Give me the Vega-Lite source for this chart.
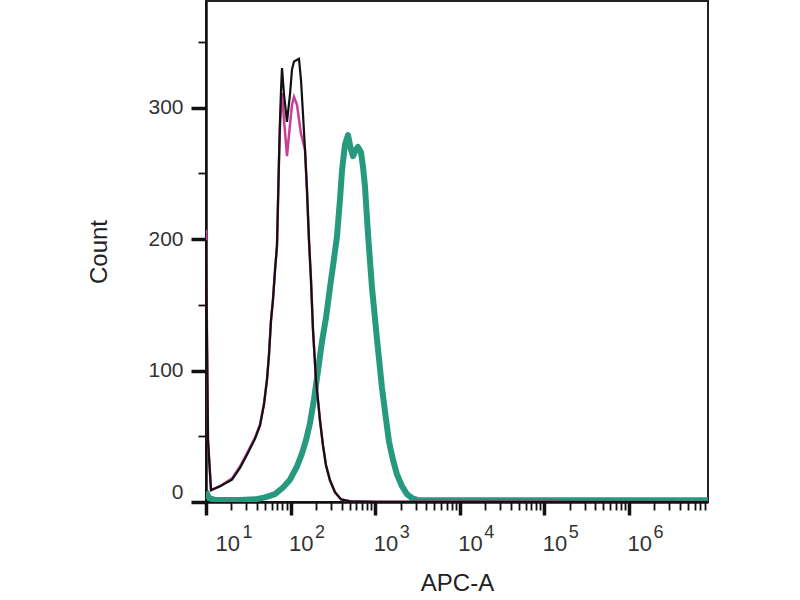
{
  "$schema": "https://vega.github.io/schema/vega-lite/v6.json",
  "width": 502,
  "height": 501,
  "autosize": "none",
  "padding": {"left": 206, "top": 1, "right": 92, "bottom": 98},
  "background": "white",
  "config": {
    "view": {"stroke": "#222", "strokeWidth": 2},
    "axis": {"labelFont": "Liberation Sans", "titleFont": "Liberation Sans", "labelColor": "#333", "titleColor": "#222", "titleFontWeight": "normal", "grid": false, "zindex": 1}
  },
  "data": {"values": [
    {"s": "teal", "x": 10, "y": 8}, {"s": "teal", "x": 10.85, "y": 3}, {"s": "teal", "x": 12.78, "y": 1.6}, {"s": "teal", "x": 25.23, "y": 1.5}, {"s": "teal", "x": 37.95, "y": 2}, {"s": "teal", "x": 49.82, "y": 3.5}, {"s": "teal", "x": 65.4, "y": 6}, {"s": "teal", "x": 81.33, "y": 11}, {"s": "teal", "x": 98.37, "y": 17}, {"s": "teal", "x": 119, "y": 27}, {"s": "teal", "x": 136.4, "y": 37}, {"s": "teal", "x": 152.1, "y": 47}, {"s": "teal", "x": 169.6, "y": 60}, {"s": "teal", "x": 189.1, "y": 78}, {"s": "teal", "x": 210.9, "y": 100}, {"s": "teal", "x": 235, "y": 122}, {"s": "teal", "x": 262, "y": 140}, {"s": "teal", "x": 292.2, "y": 163}, {"s": "teal", "x": 325.8, "y": 185}, {"s": "teal", "x": 353.6, "y": 202}, {"s": "teal", "x": 383.6, "y": 230}, {"s": "teal", "x": 405.2, "y": 252}, {"s": "teal", "x": 439.5, "y": 272}, {"s": "teal", "x": 476.9, "y": 279}, {"s": "teal", "x": 517.6, "y": 268}, {"s": "teal", "x": 546.6, "y": 263}, {"s": "teal", "x": 592.9, "y": 268}, {"s": "teal", "x": 626.1, "y": 270}, {"s": "teal", "x": 679.6, "y": 266}, {"s": "teal", "x": 717.5, "y": 255}, {"s": "teal", "x": 757.5, "y": 240}, {"s": "teal", "x": 822, "y": 204}, {"s": "teal", "x": 916.7, "y": 163}, {"s": "teal", "x": 1050, "y": 124}, {"s": "teal", "x": 1203, "y": 87}, {"s": "teal", "x": 1342, "y": 63}, {"s": "teal", "x": 1456, "y": 46}, {"s": "teal", "x": 1623, "y": 32}, {"s": "teal", "x": 1810, "y": 21}, {"s": "teal", "x": 2074, "y": 12}, {"s": "teal", "x": 2376, "y": 6}, {"s": "teal", "x": 2723, "y": 3}, {"s": "teal", "x": 3120, "y": 1.6}, {"s": "teal", "x": 4444, "y": 1.3}, {"s": "teal", "x": 29880, "y": 1.3}, {"s": "teal", "x": 454100, "y": 1.3}, {"s": "teal", "x": 8600000, "y": 1.3},

    {"s": "pink", "x": 10, "y": 207}, {"s": "pink", "x": 10.56, "y": 47}, {"s": "pink", "x": 11.46, "y": 9}, {"s": "pink", "x": 14.64, "y": 12}, {"s": "pink", "x": 20.29, "y": 18}, {"s": "pink", "x": 25.23, "y": 27}, {"s": "pink", "x": 30.52, "y": 37}, {"s": "pink", "x": 37.95, "y": 49}, {"s": "pink", "x": 43.48, "y": 59}, {"s": "pink", "x": 48.48, "y": 75}, {"s": "pink", "x": 52.61, "y": 93}, {"s": "pink", "x": 55.55, "y": 112}, {"s": "pink", "x": 58.66, "y": 138}, {"s": "pink", "x": 61.94, "y": 154}, {"s": "pink", "x": 65.4, "y": 176}, {"s": "pink", "x": 69.07, "y": 195}, {"s": "pink", "x": 72.93, "y": 260}, {"s": "pink", "x": 74.94, "y": 285}, {"s": "pink", "x": 77.01, "y": 300}, {"s": "pink", "x": 79.13, "y": 311}, {"s": "pink", "x": 83.56, "y": 291}, {"s": "pink", "x": 90.67, "y": 263}, {"s": "pink", "x": 98.37, "y": 287}, {"s": "pink", "x": 103.9, "y": 302}, {"s": "pink", "x": 109.7, "y": 308}, {"s": "pink", "x": 119, "y": 302}, {"s": "pink", "x": 125.7, "y": 291}, {"s": "pink", "x": 132.7, "y": 280}, {"s": "pink", "x": 140.2, "y": 274}, {"s": "pink", "x": 148, "y": 268}, {"s": "pink", "x": 156.3, "y": 237}, {"s": "pink", "x": 165, "y": 199}, {"s": "pink", "x": 174.2, "y": 169}, {"s": "pink", "x": 184, "y": 131}, {"s": "pink", "x": 199.6, "y": 93}, {"s": "pink", "x": 222.6, "y": 62}, {"s": "pink", "x": 241.5, "y": 43}, {"s": "pink", "x": 262, "y": 28}, {"s": "pink", "x": 292.2, "y": 16.5}, {"s": "pink", "x": 334.8, "y": 7.4}, {"s": "pink", "x": 394.2, "y": 2}, {"s": "pink", "x": 503.6, "y": 0.5}, {"s": "pink", "x": 1000, "y": 0.2}, {"s": "pink", "x": 8600000, "y": 0},

    {"s": "black", "x": 10, "y": 199}, {"s": "black", "x": 10.56, "y": 47}, {"s": "black", "x": 11.46, "y": 9}, {"s": "black", "x": 14.64, "y": 12}, {"s": "black", "x": 20.29, "y": 17}, {"s": "black", "x": 25.23, "y": 26}, {"s": "black", "x": 30.52, "y": 36}, {"s": "black", "x": 37.95, "y": 48}, {"s": "black", "x": 43.48, "y": 58}, {"s": "black", "x": 48.48, "y": 74}, {"s": "black", "x": 52.61, "y": 93}, {"s": "black", "x": 55.55, "y": 112}, {"s": "black", "x": 58.66, "y": 138}, {"s": "black", "x": 61.94, "y": 154}, {"s": "black", "x": 65.4, "y": 176}, {"s": "black", "x": 69.07, "y": 195}, {"s": "black", "x": 72.93, "y": 260}, {"s": "black", "x": 74.94, "y": 290}, {"s": "black", "x": 77.01, "y": 313}, {"s": "black", "x": 79.13, "y": 330}, {"s": "black", "x": 83.56, "y": 310}, {"s": "black", "x": 90.67, "y": 289}, {"s": "black", "x": 98.37, "y": 310}, {"s": "black", "x": 103.9, "y": 329}, {"s": "black", "x": 109.7, "y": 335}, {"s": "black", "x": 125.7, "y": 337}, {"s": "black", "x": 132.7, "y": 321}, {"s": "black", "x": 140.2, "y": 295}, {"s": "black", "x": 148, "y": 268}, {"s": "black", "x": 156.3, "y": 237}, {"s": "black", "x": 165, "y": 199}, {"s": "black", "x": 174.2, "y": 169}, {"s": "black", "x": 184, "y": 131}, {"s": "black", "x": 199.6, "y": 93}, {"s": "black", "x": 222.6, "y": 62}, {"s": "black", "x": 241.5, "y": 43}, {"s": "black", "x": 262, "y": 28}, {"s": "black", "x": 292.2, "y": 16.5}, {"s": "black", "x": 334.8, "y": 7.4}, {"s": "black", "x": 394.2, "y": 2}, {"s": "black", "x": 503.6, "y": 0.5}, {"s": "black", "x": 1000, "y": 0.2}, {"s": "black", "x": 8600000, "y": 0}
  ]},
  "resolve": {"axis": {"x": "independent"}},
  "layer": [
    {
      "transform": [{"filter": "datum.s == 'teal'"}],
      "mark": {"type": "line", "color": "#27997e", "strokeWidth": 6, "clip": true, "strokeJoin": "round"},
      "encoding": {
        "x": {"field": "x", "type": "quantitative", "scale": {"type": "log", "domain": [10, 8600000], "nice": false},
          "axis": {
            "orient": "bottom", "title": "APC-A", "titleFontSize": 24, "titlePadding": 17,
            "values": [10,20,30,40,50,60,70,80,90,100,200,300,400,500,600,700,800,900,1000,2000,3000,4000,5000,6000,7000,8000,9000,10000,20000,30000,40000,50000,60000,70000,80000,90000,100000,200000,300000,400000,500000,600000,700000,800000,900000,1000000,2000000,3000000,4000000,5000000,6000000,7000000,8000000],
            "labelExpr": "indexof([10,100,1000,10000,100000,1000000], datum.value) >= 0 ? '10' : ''",
            "tickSize": {"condition": {"test": "indexof([10,100,1000,10000,100000,1000000], datum.value) >= 0", "value": 13}, "value": 8},
            "tickWidth": {"condition": {"test": "indexof([10,100,1000,10000,100000,1000000], datum.value) >= 0", "value": 3.5}, "value": 1.8},
            "tickColor": "#111", "domainColor": "#111", "domainWidth": 2.5,
            "labelAlign": "left", "labelBaseline": "top",
            "labelOffset": {"condition": {"test": "datum.value == 10", "value": 9}, "value": -2},
            "labelPadding": 18, "labelFontSize": 22, "labelOverlap": false, "labelBound": false, "labelFlush": false
          }
        },
        "y": {"field": "y", "type": "quantitative", "scale": {"domain": [0, 381], "nice": false},
          "axis": {
            "title": "Count", "titleFontSize": 24, "titlePadding": 36,
            "values": [0,25,50,75,100,125,150,175,200,225,250,275,300,325,350,375],
            "labelExpr": "datum.value % 100 == 0 ? datum.label : ''",
            "tickSize": {"condition": {"test": "datum.value % 100 == 0", "value": 15}, "value": 8},
            "tickWidth": {"condition": {"test": "datum.value % 100 == 0", "value": 3.5}, "value": 1.8},
            "tickColor": "#111", "domainColor": "#111", "domainWidth": 2.5,
            "labelPadding": 8, "labelFontSize": 21, "labelFlush": true, "labelOverlap": false
          }
        }
      }
    },
    {
      "transform": [{"filter": "datum.s == 'pink'"}],
      "mark": {"type": "line", "color": "#c93f96", "strokeWidth": 2.5, "clip": true},
      "encoding": {
        "x": {"field": "x", "type": "quantitative", "axis": null},
        "y": {"field": "y", "type": "quantitative"}
      }
    },
    {
      "transform": [{"filter": "datum.s == 'black'"}],
      "mark": {"type": "line", "color": "#111111", "strokeWidth": 2.2, "clip": true},
      "encoding": {
        "x": {"field": "x", "type": "quantitative",
          "axis": {
            "orient": "bottom", "title": null, "domain": false, "ticks": false,
            "values": [10,100,1000,10000,100000,1000000],
            "labelExpr": "'' + round(log(datum.value) / LN10)",
            "labelAlign": "left", "labelBaseline": "top",
            "labelOffset": {"condition": {"test": "datum.value == 10", "value": 36}, "value": 24},
            "labelPadding": 21, "labelFontSize": 18, "labelOverlap": false, "labelBound": false, "labelFlush": false
          }
        },
        "y": {"field": "y", "type": "quantitative"}
      }
    }
  ]
}
